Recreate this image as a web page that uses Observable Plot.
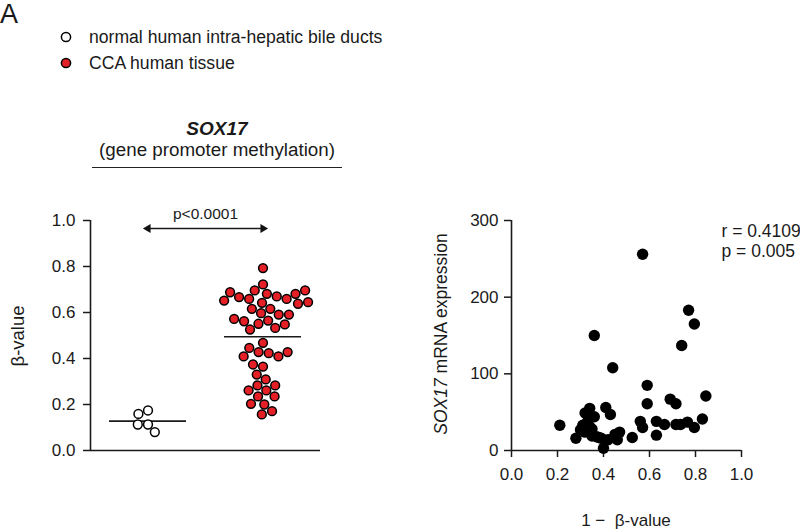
<!DOCTYPE html>
<html><head><meta charset="utf-8">
<script src="https://cdn.jsdelivr.net/npm/d3@7"></script>
<script src="https://cdn.jsdelivr.net/npm/@observablehq/plot@0.6"></script>
<style>
body{margin:0;background:#fff;}
#root{position:relative;width:800px;height:530px;font-family:"Liberation Sans",Arial,Helvetica,sans-serif;color:#1a1a1a;overflow:hidden;background:#fff;}
.t{position:absolute;white-space:pre;line-height:1;}
.c{transform:translate(-50%,-50%);}
.r{transform:translate(-50%,-50%) rotate(-90deg);}
#root svg{overflow:visible;}
</style></head><body><div id="root"></div>
<script>
// ---------- data ----------
const groups = ["normal", "CCA"];
const groupLabels = ["normal human intra-hepatic bile ducts", "CCA human tissue"];
const groupColors = ["#ffffff", "#e41f26"];
const normalBeta = [0.174, 0.159, 0.113, 0.113, 0.080];
const ccaBeta = [
  0.793, 0.722,
  0.696, 0.681, 0.670, 0.659, 0.659, 0.667, 0.681, 0.688, 0.696,
  0.652, 0.642, 0.616, 0.597, 0.616, 0.638, 0.645,
  0.591, 0.565, 0.551, 0.533, 0.526, 0.548, 0.562, 0.572, 0.591,
  0.468, 0.428, 0.423, 0.446, 0.409, 0.409, 0.428, 0.365, 0.374, 0.330, 0.309,
  0.283, 0.261, 0.235, 0.235, 0.261, 0.283, 0.200, 0.203, 0.157, 0.171
];
const pLabel = "p<0.0001";
const yTicksLeft = [0, 0.2, 0.4, 0.6, 0.8, 1.0];

const scatterX = [0.21, 0.28, 0.30, 0.31, 0.32, 0.34, 0.36, 0.34, 0.35, 0.38, 0.36, 0.41, 0.43, 0.40, 0.42,
  0.46, 0.47, 0.44, 0.525, 0.56, 0.57, 0.59, 0.59, 0.57, 0.63, 0.63, 0.665, 0.69, 0.715, 0.715,
  0.735, 0.765, 0.795, 0.83, 0.845, 0.74, 0.77, 0.795, 0.33, 0.35, 0.37, 0.39, 0.45, 0.32, 0.335];
const scatterY = [33, 16, 27, 33, 49, 55, 44, 31, 19, 17, 150, 56, 47, 3, 14,
  14, 24, 108, 17, 38, 30, 85, 61, 256, 20, 38, 34, 67, 61, 34,
  34, 37, 30, 41, 71, 137, 183, 165, 37, 28, 18, 16, 21, 24, 44];
const xTicksRight = [0, 0.2, 0.4, 0.6, 0.8, 1.0];
const yTicksRight = [0, 100, 200, 300];
const statsLines = ["r = 0.4109", "p = 0.005"];

// ---------- build ----------
const FONT = '"Liberation Sans", Arial, Helvetica, sans-serif';
const root = document.getElementById("root");
function addText(html, cls, style) {
  const d = document.createElement("div");
  d.className = "t " + cls;
  d.innerHTML = html;
  Object.assign(d.style, style);
  root.appendChild(d);
  return d;
}

addText("A", "", {left: "0px", top: "1px", fontSize: "27px"});

// legend
groupLabels.forEach((lab, i) => {
  const cy = 37 + i * 26;
  const s = document.createElementNS("http://www.w3.org/2000/svg", "svg");
  s.setAttribute("width", 14); s.setAttribute("height", 14);
  s.style.position = "absolute"; s.style.left = "59px"; s.style.top = (cy - 7) + "px";
  s.innerHTML = `<circle cx="7" cy="7" r="4.6" fill="${groupColors[i]}" stroke="#000" stroke-width="1.5"/>`;
  root.appendChild(s);
  addText(lab, "", {left: "89px", top: (cy - 9) + "px", fontSize: "17.6px", lineHeight: "18px"});
});

// panel title
addText("<b><i>SOX17</i></b>", "c", {left: "217px", top: "128px", fontSize: "19px"});
addText("(gene promoter methylation)", "c", {left: "217px", top: "150px", fontSize: "18.8px"});
const hr = document.createElement("div");
Object.assign(hr.style, {position: "absolute", left: "92px", top: "167px", width: "250px", borderTop: "1.6px solid #222"});
root.appendChild(hr);

// left plot
const beta = [
  ...normalBeta.map(v => ({group: "normal", value: v})),
  ...ccaBeta.map(v => ({group: "CCA", value: v}))
];
const means = groups.map(g => ({group: g, value: d3.mean(beta.filter(d => d.group === g), d => d.value)}));
const comparisons = [{group: "normal", label: pLabel}];
const ends = comparisons.flatMap(d => [{...d, end: 0, rot: -90}, {...d, end: 1, rot: 90}]);
const arrowLevel = 0.965;

const left = Plot.plot({
  width: 340, height: 280,
  marginLeft: 90, marginRight: 20, marginTop: 30, marginBottom: 20,
  style: {fontFamily: FONT, fontSize: "17px", color: "#1a1a1a", background: "transparent", overflow: "visible"},
  fx: {domain: groups, padding: 0, axis: null},
  x: {domain: [-0.5, 0.5], axis: null},
  y: {domain: [0, 1]},
  color: {domain: groups, range: groupColors},
  marks: [
    Plot.ruleY([0], {strokeWidth: 1.6}),
    Plot.ruleX([{group: "normal"}], {fx: "group", x: () => -0.5, strokeWidth: 1.6}),
    Plot.axisY(yTicksLeft, {tickSize: 7, tickPadding: 8, tickFormat: d3.format(".1f"), strokeWidth: 1.5, label: null}),
    Plot.tickY(means, {fx: "group", y: "value", insetLeft: 19, insetRight: 19, strokeWidth: 1.6}),
    Plot.dot(beta, Plot.dodgeX({anchor: "middle", padding: 1.4}, {fx: "group", y: "value", r: 4.4, fill: "group", stroke: "#000", strokeWidth: 1.5})),
    Plot.ruleY(comparisons, {fx: "group", y: () => arrowLevel, x1: () => 0, x2: () => 1, strokeWidth: 1.5}),
    Plot.dot(ends, {fx: "group", x: "end", y: () => arrowLevel, symbol: "triangle", r: 3.3, fill: "#111", rotate: "rot"}),
    Plot.text(comparisons, {fx: "group", x: () => 0.5, y: () => arrowLevel, text: "label", dy: -15, fontSize: 15.5})
  ]
});
Object.assign(left.style, {position: "absolute", left: "0px", top: "190px"});
root.appendChild(left);
addText("β-value", "r", {left: "18px", top: "336px", fontSize: "18.5px"});

// right plot
const scatter = scatterX.map((x, i) => ({x, y: scatterY[i]}));
const right = Plot.plot({
  width: 380, height: 340,
  marginLeft: 91, marginRight: 59, marginTop: 30, marginBottom: 80,
  style: {fontFamily: FONT, fontSize: "17px", color: "#1a1a1a", background: "transparent", overflow: "visible"},
  x: {domain: [0, 1]},
  y: {domain: [0, 300]},
  marks: [
    Plot.ruleY([0], {strokeWidth: 1.6}),
    Plot.ruleX([0], {strokeWidth: 1.6}),
    Plot.axisX(xTicksRight, {tickSize: 7, tickPadding: 10, tickFormat: d3.format(".1f"), strokeWidth: 1.5, label: null}),
    Plot.axisY(yTicksRight, {tickSize: 7, tickPadding: 6, strokeWidth: 1.5, label: null}),
    Plot.dot(scatter, {x: "x", y: "y", r: 5.7, fill: "#000"}),
    Plot.text([statsLines.join("\n")], {frameAnchor: "top-right", textAnchor: "start", lineAnchor: "middle", dx: -20, dy: 20.5, lineHeight: 1.12, fontSize: 17.5})
  ]
});
Object.assign(right.style, {position: "absolute", left: "420px", top: "190px"});
root.appendChild(right);
addText("<i>SOX17</i> mRNA expression", "r", {left: "442px", top: "334px", fontSize: "17.5px"});
addText("1 −  β-value", "c", {left: "626px", top: "520px", fontSize: "17px"});
</script></body></html>
